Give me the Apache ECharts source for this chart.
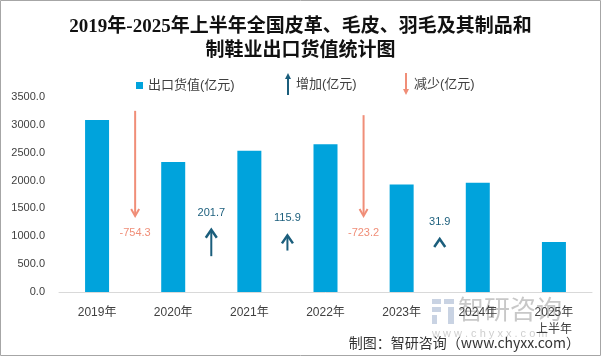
<!DOCTYPE html>
<html>
<head>
<meta charset="utf-8">
<script src="https://cdn.jsdelivr.net/npm/echarts@6/dist/echarts.min.js"></script>
<style>
html,body{margin:0;padding:0;background:#fff;}
#chart{width:601px;height:356px;}
</style>
</head>
<body>
<div id="chart"></div>
<script>
// ---- data ----
const categories = ['2019年', '2020年', '2021年', '2022年', '2023年', '2024年', '2025年\n上半年'];
const exportValues = [3087.4, 2333.1, 2534.8, 2650.7, 1927.5, 1959.4, 897.0];
// change between consecutive years (gap index 0 = between 2019 and 2020)
const changeValues = [-754.3, 201.7, 115.9, -723.2, 31.9];
const yTickMax = 3500;
const yTickStep = 500;

const seriesName = '出口货值(亿元)';
const upName = '增加(亿元)';
const downName = '减少(亿元)';

const upData = [], downData = [];
changeValues.forEach((v, i) => { (v >= 0 ? upData : downData).push([i, v]); });

// ---- styles ----
const BAR_COLOR = '#00A3DC';
const UP_COLOR = '#1B5E7C';
const DOWN_COLOR = '#F08E78';
const SANS = '"Liberation Sans", "Noto Sans CJK SC", sans-serif';
const DOWN_TIP = 1366, DOWN_SCALE = 2.5;
const UP_CENTER = 880, UP_SCALE = 2.35;

function gapX(api, i) {
  const a = api.coord([i, 0]), b = api.coord([i + 1, 0]);
  return (a[0] + b[0]) / 2;
}

function renderDown(params, api) {
  const i = api.value(0), v = api.value(1);
  const x = gapX(api, i);
  const tipY = api.coord([i, DOWN_TIP])[1];
  const tailY = api.coord([i, DOWN_TIP + Math.abs(v) * DOWN_SCALE])[1];
  return {
    type: 'group',
    children: [
      { type: 'line', shape: { x1: x, y1: tailY, x2: x, y2: tipY - 1 }, style: { stroke: DOWN_COLOR, lineWidth: 2 } },
      { type: 'polyline', shape: { points: [[x - 4, tipY - 7], [x, tipY], [x + 4, tipY - 7]] }, style: { stroke: DOWN_COLOR, lineWidth: 2, fill: null } },
      { type: 'text', x: x, y: tipY + 17, style: { text: v.toFixed(1), fill: DOWN_COLOR, font: '11px ' + SANS, align: 'center', verticalAlign: 'middle' } }
    ]
  };
}

function renderUp(params, api) {
  const i = api.value(0), v = api.value(1);
  const x = gapX(api, i);
  const cy = api.coord([i, UP_CENTER])[1];
  const len = Math.max(api.coord([i, 0])[1] - api.coord([i, v * UP_SCALE])[1], 8);
  const tipY = cy - len / 2, tailY = cy + len / 2;
  const children = [
    { type: 'polyline', shape: { points: [[x - 5.5, tipY + 8], [x, tipY], [x + 5.5, tipY + 8]] }, style: { stroke: UP_COLOR, lineWidth: 2.5, fill: null } },
    { type: 'text', x: x, y: tipY - 17, style: { text: v.toFixed(1), fill: UP_COLOR, font: '11px ' + SANS, align: 'center', verticalAlign: 'middle' } }
  ];
  if (len > 8) {
    children.unshift({ type: 'line', shape: { x1: x, y1: tailY, x2: x, y2: tipY + 1 }, style: { stroke: UP_COLOR, lineWidth: 2 } });
  }
  return { type: 'group', children: children };
}

const chart = echarts.init(document.getElementById('chart'), null, { renderer: 'canvas' });
const legendText = { fontSize: 13, color: '#404040', fontFamily: SANS };

chart.setOption({
  animation: false,
  backgroundColor: '#fff',
  title: {
    text: '2019年-2025年上半年全国皮革、毛皮、羽毛及其制品和\n制鞋业出口货值统计图',
    left: 'center',
    top: 10,
    textStyle: { fontSize: 19, fontWeight: 'bold', color: '#111', lineHeight: 24, fontFamily: '"Liberation Serif", "Noto Sans CJK SC", serif' }
  },
  legend: [
    { data: [{ name: seriesName, icon: 'rect' }], left: 131, top: 74, itemWidth: 7, itemHeight: 7, textStyle: legendText, selectedMode: false },
    { data: [{ name: upName, icon: 'path://M3,0 L6,6 L4,6 L4,22 L2,22 L2,6 L0,6 Z', itemStyle: { color: UP_COLOR } }], left: 280, top: 68, itemWidth: 6, itemHeight: 22, textStyle: legendText, selectedMode: false },
    { data: [{ name: downName, icon: 'path://M2,0 L4,0 L4,16 L6,16 L3,22 L0,16 L2,16 Z', itemStyle: { color: DOWN_COLOR } }], left: 398, top: 68, itemWidth: 6, itemHeight: 22, textStyle: legendText, selectedMode: false }
  ],
  grid: { left: 59, right: 9, top: 97, bottom: 64, containLabel: false },
  xAxis: {
    type: 'category',
    data: categories,
    axisLine: { lineStyle: { color: '#d9d9d9', width: 1 } },
    axisTick: { show: false },
    axisLabel: { fontSize: 12, color: '#404040', margin: 12, lineHeight: 17, fontFamily: SANS, interval: 0 }
  },
  yAxis: {
    type: 'value',
    min: 0, max: yTickMax, interval: yTickStep,
    axisLine: { show: false },
    axisTick: { show: false },
    splitLine: { show: false },
    axisLabel: { fontSize: 11, color: '#404040', margin: 14, fontFamily: SANS, formatter: v => v.toFixed(1) }
  },
  series: [
    { name: seriesName, type: 'bar', data: exportValues, barWidth: 24, itemStyle: { color: BAR_COLOR }, z: 2 },
    { name: upName, type: 'custom', data: upData, renderItem: renderUp, itemStyle: { color: UP_COLOR }, z: 3, silent: true },
    { name: downName, type: 'custom', data: downData, renderItem: renderDown, itemStyle: { color: DOWN_COLOR }, z: 3, silent: true }
  ],
  graphic: [
    { type: 'rect', shape: { x: 0.5, y: 0.5, width: 600, height: 355 }, style: { fill: null, stroke: '#a6a6a6', lineWidth: 1 }, z: 100, silent: true },
    // watermark
    { type: 'group', left: 432, top: 296, z: -1, silent: true, children: [
      { type: 'rect', shape: { x: 0, y: 2, width: 9, height: 5 }, style: { fill: '#c9d3e3' } },
      { type: 'rect', shape: { x: 12, y: 2, width: 10, height: 5 }, style: { fill: '#c9d3e3' } },
      { type: 'rect', shape: { x: 0, y: 10, width: 9, height: 5 }, style: { fill: '#c9d3e3' } },
      { type: 'rect', shape: { x: 0, y: 18, width: 5, height: 9 }, style: { fill: '#c9d3e3' } },
      { type: 'rect', shape: { x: 16, y: 10, width: 6, height: 17 }, style: { fill: '#c9d3e3' } },
      { type: 'text', x: 26, y: -1, style: { text: '智研咨询', font: '26px "Noto Sans CJK SC", sans-serif', fill: '#c8c8c8' } },
      { type: 'text', x: 0, y: 31, style: { text: 'w w w . c h y x x . c o m', font: '11px ' + SANS, fill: '#cfcfcf' } }
    ] },
    { type: 'text', right: 21, top: 336, z: 10, silent: true, style: { text: '制图：智研咨询（www.chyxx.com）', font: '14px "Noto Sans CJK SC", sans-serif', fill: '#333' } }
  ]
});
</script>
</body>
</html>
